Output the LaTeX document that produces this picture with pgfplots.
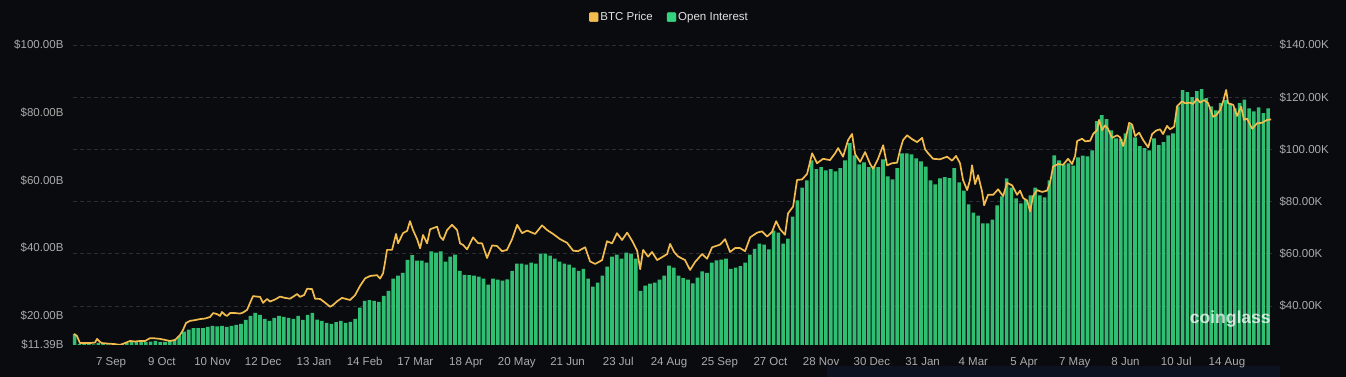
\documentclass[border=0pt]{standalone}
\usepackage{pgfplots}
\pgfplotsset{compat=1.18}
\usepackage{pgfplotstable}
\usepackage{fontspec}
\setmainfont{Liberation Sans}
\definecolor{bg}{HTML}{0A0B0F}
\definecolor{strip}{HTML}{0D1221}
\definecolor{btc}{HTML}{F2BD4E}
\definecolor{oi}{HTML}{2FBE72}
\definecolor{oilg}{HTML}{34D27E}
\definecolor{lbl}{HTML}{ABABAB}
\definecolor{leg}{HTML}{E2E2E2}
\definecolor{gridc}{HTML}{2C2E35}

\pgfplotstableread{
day oi
-23 14.67
-20 11.7
-17 11.7
-14 11.8
-11 11.6
-8 12.0
-5 11.7
-2 11.6
1 11.5
4 11.5
7 11.7
10 12.0
13 12.3
16 12.3
19 12.3
22 12.2
25 12.4
28 12.6
31 12.3
34 12.3
37 12.6
40 12.9
43 14.1
46 15.3
49 15.9
52 16.4
55 16.4
58 16.4
61 16.7
64 17.0
67 16.9
70 17.0
73 16.7
76 17.0
79 17.3
82 17.6
85 18.8
88 20.0
91 20.9
94 20.3
97 19.1
100 18.5
103 19.4
106 20.0
109 19.7
112 19.4
115 19.1
118 20.0
121 18.8
124 20.3
127 20.9
130 18.9
133 18.5
136 17.9
139 17.6
142 18.1
145 18.5
148 17.9
151 18.2
154 19.1
157 22.4
160 24.4
163 24.6
166 24.4
169 24.1
172 25.9
175 27.4
178 31.0
181 31.9
184 32.7
187 36.5
190 37.9
193 36.3
196 36.3
199 35.7
202 39.0
205 38.7
208 39.0
211 36.0
214 37.5
217 38.1
220 33.3
223 32.1
226 32.0
229 31.9
232 31.6
235 31.0
238 29.2
241 31.0
244 30.7
247 30.4
250 30.8
253 33.3
256 35.4
259 35.4
262 35.1
265 35.7
268 35.4
271 38.4
274 38.4
277 37.8
280 36.9
283 36.0
286 35.4
289 35.1
292 34.2
295 33.3
298 33.9
301 31.0
304 28.6
307 29.8
310 31.9
313 34.5
316 37.5
319 38.1
322 36.9
325 38.7
328 38.4
331 36.9
334 27.4
337 28.9
340 29.5
343 29.8
346 30.7
349 31.9
352 34.8
355 34.2
358 31.9
361 31.1
364 30.7
367 29.6
370 31.3
373 33.1
376 32.7
379 35.7
382 36.4
385 36.6
388 36.9
391 33.9
394 34.2
397 34.7
400 35.7
403 38.1
406 39.8
409 41.3
412 41.0
415 39.6
418 45.2
421 44.6
424 41.3
427 42.8
430 49.3
433 54.1
436 57.9
439 60.0
442 65.9
445 63.3
448 63.9
451 63.0
454 63.3
457 62.7
460 63.6
463 65.9
466 71.0
469 67.4
472 64.7
475 65.3
478 63.9
481 64.1
484 63.9
487 66.2
490 61.2
493 60.3
496 63.6
499 68.0
502 68.0
505 67.7
508 66.5
511 65.6
514 64.1
517 60.0
520 58.8
523 60.6
526 61.0
529 60.7
532 63.6
535 59.4
538 57.0
541 52.9
544 50.5
547 49.6
550 47.3
553 47.3
556 48.4
559 52.6
562 55.3
565 60.6
568 57.9
571 54.7
574 53.2
577 54.4
580 55.6
583 57.9
586 55.6
589 55.0
592 60.0
595 67.4
598 65.9
601 64.7
604 65.0
607 64.4
610 66.8
613 67.3
616 67.1
619 68.9
622 77.5
625 79.3
628 78.1
631 74.8
634 72.4
637 72.3
640 73.9
643 76.3
646 72.7
649 70.1
652 69.5
655 68.9
658 72.4
661 70.4
664 71.3
667 73.3
670 73.9
673 81.9
676 86.7
679 86.1
682 84.6
685 86.4
688 87.0
691 84.3
694 81.9
697 80.7
700 82.8
703 83.7
706 82.5
709 81.3
712 82.8
715 83.9
718 81.3
721 80.4
724 81.6
727 79.9
730 81.3
}\oitable

\pgfplotstableread{
day price
-23.3 29.3
-21.5 28.5
-19.6 25.8
-16.4 25.8
-13.2 25.8
-10.1 26.0
-8.8 27.4
-6.9 26.2
-5.7 25.8
-1.9 25.6
2.5 25.4
5.7 25.1
8.8 25.8
12.0 26.6
15.1 26.4
18.3 26.6
21.5 26.6
24.6 27.7
27.8 27.6
30.9 27.4
34.1 27.0
37.2 26.6
40.4 27.0
43.5 28.9
45.4 30.8
47.3 33.5
49.8 34.3
53.0 34.6
56.2 35.0
59.3 35.2
62.5 35.8
64.4 37.3
66.9 36.9
68.8 36.2
70.0 37.7
71.9 36.6
73.2 36.2
75.1 37.3
78.2 37.3
81.4 37.1
83.3 37.5
85.8 38.5
87.7 41.2
89.6 43.8
92.1 43.6
94.0 43.5
95.9 41.2
98.4 42.7
100.3 41.7
103.5 42.5
106.6 43.6
109.8 43.1
112.9 42.8
115.5 43.8
117.4 44.6
119.2 43.5
121.8 44.2
123.7 46.6
126.8 46.5
128.7 42.8
131.9 42.7
135.0 41.3
138.2 39.7
140.1 40.4
142.6 41.8
145.7 43.1
148.3 42.7
150.8 42.3
153.9 44.1
157.1 47.7
160.3 50.6
163.4 51.5
167.8 51.8
169.7 50.5
171.6 52.5
172.9 56.9
174.1 61.5
177.3 61.5
179.8 67.6
181.1 64.0
184.2 67.9
186.8 68.8
188.6 72.5
190.5 69.1
193.1 65.6
195.0 62.1
196.8 67.2
199.4 64.0
201.3 69.4
205.7 70.4
207.6 66.6
209.5 65.3
212.0 69.1
215.1 71.1
218.3 69.1
220.2 64.0
222.1 63.4
224.6 61.7
228.4 66.3
231.5 64.1
234.1 64.0
237.2 58.4
240.4 63.2
243.5 63.0
246.7 61.0
249.8 61.5
253.0 65.6
256.2 71.1
259.3 67.9
262.5 68.9
267.5 67.6
271.9 70.9
275.1 69.1
278.9 67.6
283.3 65.6
287.7 64.2
291.5 61.2
294.6 61.0
299.1 62.5
302.2 57.1
305.4 56.1
309.8 57.6
312.9 64.8
316.1 64.0
319.2 67.9
322.4 65.3
325.6 68.1
328.7 65.0
331.9 61.2
333.8 54.1
335.7 61.5
338.8 58.9
341.3 60.7
344.5 57.6
347.6 58.7
350.8 59.9
352.7 63.8
355.2 60.7
357.7 59.0
362.1 57.6
365.3 53.8
368.5 56.9
372.9 59.9
376.0 58.1
379.2 62.5
384.2 63.5
387.4 65.6
390.5 60.7
393.7 62.2
396.8 62.2
400.0 61.0
403.2 66.3
407.6 68.1
410.7 68.6
413.9 66.6
417.0 68.4
419.6 72.5
422.1 69.4
425.2 67.3
427.1 75.5
430.3 78.1
432.8 88.3
436.0 88.5
439.1 90.6
442.3 98.5
445.4 94.7
449.2 96.4
453.6 95.9
456.8 98.5
458.7 100.5
461.8 97.2
465.0 103.6
467.5 105.9
469.4 98.2
472.6 95.2
475.7 99.0
478.9 94.4
480.8 92.6
483.9 96.4
487.1 101.6
489.6 93.9
492.7 94.7
495.9 94.9
497.8 99.8
499.7 103.6
502.2 105.4
505.4 103.9
508.5 102.8
511.7 104.4
513.6 100.0
515.5 98.5
518.6 96.4
523.0 96.2
527.4 97.2
530.6 95.7
533.1 97.5
535.6 94.7
537.5 88.3
540.1 84.4
541.9 88.3
543.2 93.9
545.1 86.7
547.0 90.1
549.5 83.9
550.8 78.6
553.3 82.6
556.5 82.6
559.6 84.7
562.8 82.1
565.3 87.2
568.5 86.2
571.6 82.6
573.5 84.2
575.4 81.4
577.9 80.4
579.8 76.3
581.7 82.1
584.2 84.4
587.4 83.7
590.5 84.2
592.4 87.2
594.3 93.4
597.5 94.4
600.6 94.1
603.8 96.4
606.3 94.4
608.2 97.5
609.5 103.2
612.6 104.1
614.5 103.1
617.7 103.3
619.6 105.9
622.1 107.4
623.3 111.3
625.2 107.4
627.1 109.2
629.0 107.9
631.5 104.4
634.7 105.4
636.6 104.6
638.5 101.3
640.4 104.9
642.3 110.2
644.2 109.5
646.1 105.1
648.6 106.4
651.1 103.6
654.3 100.8
656.8 105.9
659.3 107.2
661.8 107.7
663.7 105.9
666.2 109.0
668.1 107.7
670.7 108.7
672.6 116.6
675.7 118.4
677.6 117.7
680.8 117.9
682.6 117.4
685.2 119.4
687.1 117.9
689.6 118.9
692.1 117.7
695.3 112.5
697.2 113.1
699.7 115.1
701.6 118.4
703.5 122.8
704.7 117.7
707.9 117.1
710.4 112.8
712.9 116.4
714.8 111.3
716.7 111.8
719.9 107.9
723.0 110.0
726.2 110.2
729.3 111.3
731.9 111.5
}\pricetable

\begin{document}
\begin{tikzpicture}[x=1pt,y=1pt]
\path[use as bounding box] (0,0) rectangle (1346,377);
\fill[bg] (0,0) rectangle (1346,377);
\fill[strip] (827,0) rectangle (1280,11);
\pgfplotsset{
  base/.style={
    width=1199pt, height=300pt, scale only axis,
    at={(73pt,32pt)}, anchor=south west,
    xmin=-24, xmax=732.4,
    axis line style={draw=none}, tick style={draw=none},
    tick label style={text=lbl, font=\fontsize{11.5}{13}\selectfont},
  }
}
% grid
\begin{axis}[base, ymin=25.06, ymax=140, ytick={40,60,80,100,120,140}, yticklabels={}, xtick=\empty,
  ymajorgrids, grid style={gridc, dash pattern=on 4pt off 3pt, line width=0.8pt}]
\addplot[draw=none] coordinates {(0,50)};
\end{axis}
% open interest bars
\begin{axis}[base, ymin=11.38, ymax=100, ybar, bar width=2.3,
  ytick={11.39,20,40,60,80,100},
  yticklabels={\$11.39B,\$20.00B,\$40.00B,\$60.00B,\$80.00B,\$100.00B},
  yticklabel style={xshift=-6pt},
  xtick={0,32,64,96,128,160,192,224,256,288,320,352,384,416,448,480,512,544,576,608,640,672,704},
  xticklabels={7 Sep,9 Oct,10 Nov,12 Dec,13 Jan,14 Feb,17 Mar,18 Apr,20 May,21 Jun,23 Jul,24 Aug,25 Sep,27 Oct,28 Nov,30 Dec,31 Jan,4 Mar,5 Apr,7 May,8 Jun,10 Jul,14 Aug},
  xticklabel style={anchor=base, yshift=-16.5pt}]
\addplot[fill=oi, draw=none] table[x=day,y=oi]{\oitable};
\end{axis}
% BTC price line
\begin{axis}[base, ymin=25.06, ymax=140,
  ytick={40,60,80,100,120,140},
  yticklabels={\$40.00K,\$60.00K,\$80.00K,\$100.00K,\$120.00K,\$140.00K},
  yticklabel pos=right, yticklabel style={xshift=4pt},
  xtick=\empty,
  legend columns=2,
  legend style={at={(0.4975,1.093)}, anchor=center, draw=none, fill=none,
    text=leg, font=\fontsize{11.5}{13}\selectfont,
    /tikz/every even column/.append style={column sep=12pt}},
  legend cell align=left]
\addplot[btc, line width=1.7pt, line join=round, forget plot] table[x=day,y=price]{\pricetable};
\addlegendimage{legend image code/.code={\fill[btc, rounded corners=1pt] (0pt,-4.5pt) rectangle (9pt,4.5pt);}}
\addlegendentry{BTC Price}
\addlegendimage{legend image code/.code={\fill[oilg, rounded corners=1pt] (0pt,-4.5pt) rectangle (9pt,4.5pt);}}
\addlegendentry{Open Interest}
\node[anchor=east, inner sep=0pt, text=white, text opacity=0.75, font=\fontsize{17.5}{18}\selectfont\bfseries] at (rel axis cs:0.999,0.087) {coinglass};
\end{axis}
\end{tikzpicture}
\end{document}
